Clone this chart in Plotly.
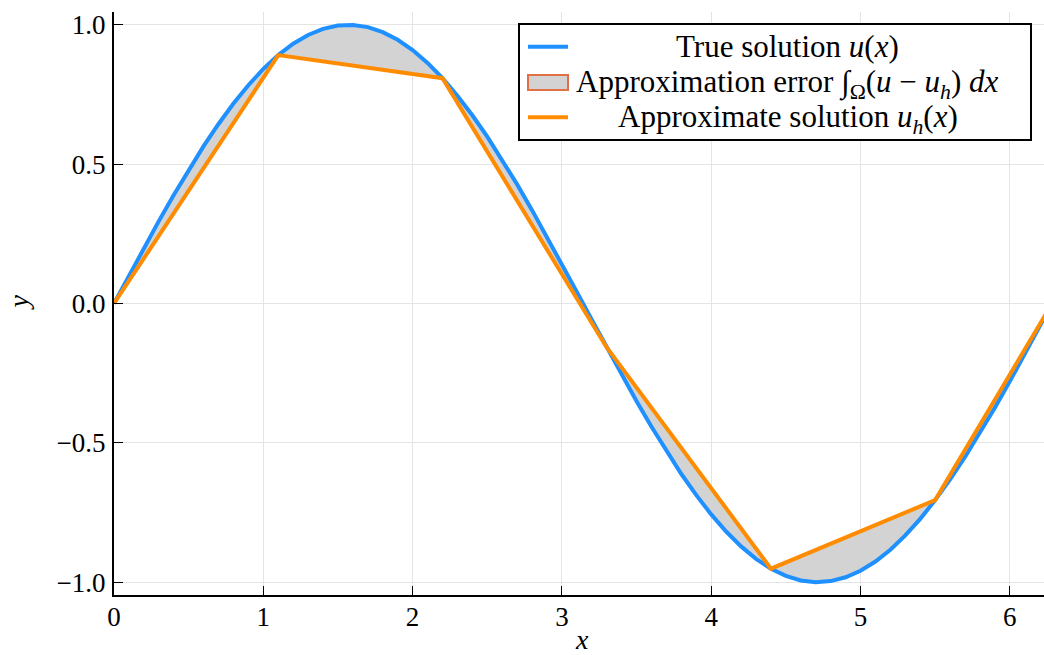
import plotly.graph_objects as go

# True solution u(x) = sin(x), values read at x = 0.0, 0.1, ..., 6.2 and 2*pi
x_true = [0.0, 0.1, 0.2, 0.3, 0.4, 0.5, 0.6, 0.7, 0.8, 0.9,
          1.0, 1.1, 1.2, 1.3, 1.4, 1.5, 1.6, 1.7, 1.8, 1.9,
          2.0, 2.1, 2.2, 2.3, 2.4, 2.5, 2.6, 2.7, 2.8, 2.9,
          3.0, 3.1, 3.2, 3.3, 3.4, 3.5, 3.6, 3.7, 3.8, 3.9,
          4.0, 4.1, 4.2, 4.3, 4.4, 4.5, 4.6, 4.7, 4.8, 4.9,
          5.0, 5.1, 5.2, 5.3, 5.4, 5.5, 5.6, 5.7, 5.8, 5.9,
          6.0, 6.1, 6.2, 6.2832]
y_true = [0.0000, 0.0998, 0.1987, 0.2955, 0.3894, 0.4794, 0.5646, 0.6442, 0.7174, 0.7833,
          0.8415, 0.8912, 0.9320, 0.9636, 0.9854, 0.9975, 0.9996, 0.9917, 0.9738, 0.9463,
          0.9093, 0.8632, 0.8085, 0.7457, 0.6755, 0.5985, 0.5155, 0.4274, 0.3350, 0.2392,
          0.1411, 0.0416, -0.0584, -0.1577, -0.2555, -0.3508, -0.4425, -0.5298, -0.6119, -0.6878,
          -0.7568, -0.8183, -0.8716, -0.9162, -0.9516, -0.9775, -0.9937, -0.9999, -0.9962, -0.9825,
          -0.9589, -0.9258, -0.8835, -0.8323, -0.7728, -0.7055, -0.6313, -0.5507, -0.4646, -0.3739,
          -0.2794, -0.1822, -0.0831, 0.0000]

# Approximate (piecewise linear) solution nodes
x_nodes = [0.0, 1.1, 2.2, 3.3, 4.4, 5.5, 6.2832]
y_nodes = [0.0, 0.8912, 0.8085, -0.1577, -0.9516, -0.7055, 0.0]

x_ticks = [0, 1, 2, 3, 4, 5, 6]
y_ticks = [-1.0, -0.5, 0.0, 0.5, 1.0]

legend_labels = [
    "True solution <i>u</i>(<i>x</i>)",
    "Approximation error ∫<sub>Ω</sub>(<i>u</i> − <i>u</i><sub><i>h</i></sub>) <i>dx</i>",
    "Approximate solution <i>u</i><sub><i>h</i></sub>(<i>x</i>)",
]

FONT = "'Liberation Serif', 'Times New Roman', serif"
BLUE = "#1e90ff"
ORANGE = "#ff8c00"
FILL = "#d3d3d3"
FILL_EDGE = "#e26f46"

W, H = 1044, 655
ML, MR, MT, MB = 114, 0, 12, 60
PW, PH = W - ML - MR, H - MT - MB


def px(xp):
    return (xp - ML) / PW


def py(yp):
    return (H - MB - yp) / PH


fig = go.Figure()

# Error region polygon: true curve forward, approximation backward
fig.add_trace(go.Scatter(
    x=x_true + x_nodes[::-1],
    y=y_true + y_nodes[::-1],
    mode="lines",
    fill="toself",
    fillcolor=FILL,
    line=dict(color=FILL_EDGE, width=0),
    name="Approximation error",
    hoverinfo="skip",
))
fig.add_trace(go.Scatter(
    x=x_true, y=y_true, mode="lines",
    line=dict(color=BLUE, width=4),
    name="True solution u(x)",
))
fig.add_trace(go.Scatter(
    x=x_nodes, y=y_nodes, mode="lines",
    line=dict(color=ORANGE, width=4),
    name="Approximate solution u_h(x)",
))

axis_common = dict(
    showline=True, linecolor="black", linewidth=2,
    ticks="inside", ticklen=9, tickwidth=1, tickcolor="black",
    showgrid=True, gridcolor="#e4e4e4", gridwidth=1,
    zeroline=False, mirror=False,
    tickfont=dict(family=FONT, size=27, color="black"),
)

# Legend drawn as box + symbols + centered labels
shapes = [
    dict(type="rect", xref="paper", yref="paper", layer="above",
         x0=px(519), x1=px(1031), y0=py(140), y1=py(24),
         line=dict(color="black", width=2), fillcolor="white"),
    dict(type="line", xref="paper", yref="paper", layer="above",
         x0=px(528), x1=px(568), y0=py(46.7), y1=py(46.7),
         line=dict(color=BLUE, width=4)),
    dict(type="rect", xref="paper", yref="paper", layer="above",
         x0=px(528), x1=px(568), y0=py(90), y1=py(75),
         line=dict(color=FILL_EDGE, width=2), fillcolor=FILL),
    dict(type="line", xref="paper", yref="paper", layer="above",
         x0=px(528), x1=px(568), y0=py(117.3), y1=py(117.3),
         line=dict(color=ORANGE, width=4)),
]
row_y = [46.5, 84, 119]
annotations = []
for lab, ry in zip(legend_labels, row_y):
    annotations.append(dict(
        text=lab, xref="paper", yref="paper", x=px(787.5), y=py(ry),
        xanchor="center", yanchor="middle", showarrow=False,
        font=dict(family=FONT, size=31, color="black"),
    ))
annotations.append(dict(
    text="<i>x</i>", xref="paper", yref="paper", x=px(582), y=py(639),
    xanchor="center", yanchor="middle", showarrow=False,
    font=dict(family=FONT, size=28, color="black"),
))
annotations.append(dict(
    text="<i>y</i>", xref="paper", yref="paper", x=px(17.5), y=py(303),
    xanchor="center", yanchor="middle", showarrow=False, textangle=-90,
    font=dict(family=FONT, size=28, color="black"),
))

fig.update_layout(
    width=W, height=H,
    margin=dict(l=ML, r=MR, t=MT, b=MB, autoexpand=False),
    paper_bgcolor="white", plot_bgcolor="white",
    font=dict(family=FONT, color="black"),
    showlegend=False,
    xaxis=dict(range=[0, 6.229], tickvals=x_ticks, ticktext=[str(v) for v in x_ticks],
               ticklabelstandoff=-3, **axis_common),
    yaxis=dict(range=[-1.046, 1.046], tickvals=y_ticks, tickformat=".1f",
               ticklabelstandoff=1, **axis_common),
    shapes=shapes,
    annotations=annotations,
)

fig.write_html("out.html")
